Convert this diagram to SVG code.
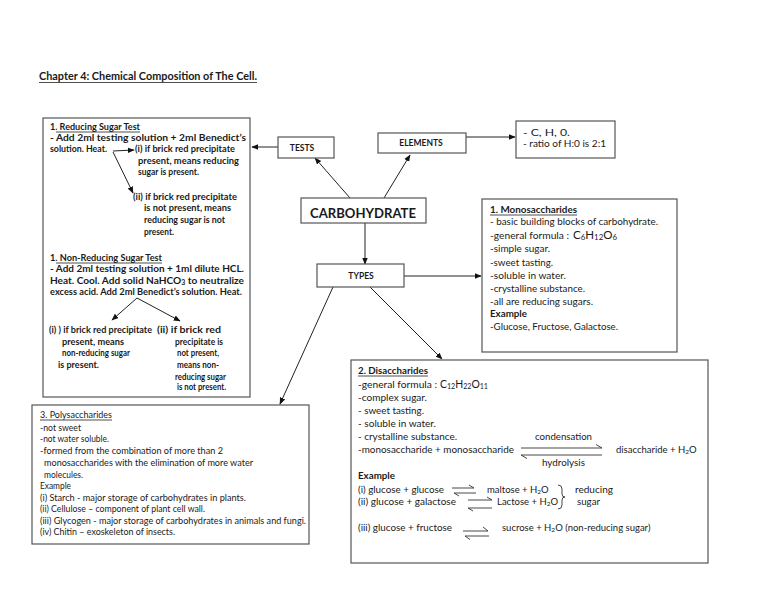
<svg xmlns="http://www.w3.org/2000/svg" width="768" height="594" viewBox="0 0 768 594">
<style>
text{font-family:Lato,"Liberation Sans",sans-serif;fill:#1a1a1a}
.t{font-size:9.5px}
.b{font-size:9.5px;font-weight:bold}
.p{font-size:8.5px}
.f{font-size:11px}
.box{fill:#fff;stroke:#555;stroke-width:1.2}
.ln{stroke:#222;stroke-width:1;fill:none}
.ul{stroke:#222;stroke-width:0.8}
.hp{stroke:#333;stroke-width:0.9;fill:none}
.s{font-size:6.5px}
.fs{font-size:7.5px}
</style>
<defs>
<marker id="ah" viewBox="0 0 10 10" refX="9" refY="5" markerWidth="7" markerHeight="7" orient="auto-start-reverse" markerUnits="userSpaceOnUse">
<path d="M0,1 L10,5 L0,9 z" fill="#111"/>
</marker>
</defs>
<rect width="768" height="594" fill="#fff"/>

<g id="title">
<text x="39" y="80" font-size="11" font-weight="bold" textLength="218" lengthAdjust="spacingAndGlyphs">Chapter 4: Chemical Composition of The Cell.</text>
<line class="ul" x1="39" y1="82.5" x2="257" y2="82.5"/>
</g>

<g id="connectors">
<line class="ln" x1="278" y1="147" x2="252" y2="147" marker-end="url(#ah)"/>
<line class="ln" x1="466" y1="137" x2="515" y2="137" marker-end="url(#ah)"/>
<line class="ln" x1="350" y1="198" x2="315" y2="158" marker-end="url(#ah)"/>
<line class="ln" x1="384" y1="198" x2="410" y2="155" marker-end="url(#ah)"/>
<line class="ln" x1="365" y1="223" x2="365" y2="264" marker-end="url(#ah)"/>
<line class="ln" x1="404" y1="276" x2="481" y2="276" marker-end="url(#ah)"/>
<line class="ln" x1="333" y1="287" x2="280" y2="404" marker-end="url(#ah)"/>
<line class="ln" x1="370" y1="287" x2="442" y2="359" marker-end="url(#ah)"/>
</g>

<g id="tests-box">
<rect class="box" x="43" y="118" width="207" height="279"/>
<text class="b" x="50" y="130" textLength="90" lengthAdjust="spacingAndGlyphs">1. Reducing Sugar Test</text>
<line class="ul" x1="56" y1="132" x2="140" y2="132"/>
<text class="b" x="50" y="141" textLength="196" lengthAdjust="spacingAndGlyphs">- Add 2ml testing solution + 2ml Benedict’s</text>
<text class="b" x="50" y="152" textLength="57" lengthAdjust="spacingAndGlyphs">solution. Heat.</text>
<text class="b" x="135" y="152" textLength="100" lengthAdjust="spacingAndGlyphs">(i) if brick red precipitate</text>
<text class="b" x="138" y="164" textLength="101" lengthAdjust="spacingAndGlyphs">present, means reducing</text>
<text class="b" x="138" y="175" textLength="61" lengthAdjust="spacingAndGlyphs">sugar is present.</text>
<text class="b" x="133" y="200" textLength="104" lengthAdjust="spacingAndGlyphs">(ii) if brick red precipitate</text>
<text class="b" x="144" y="211" textLength="87" lengthAdjust="spacingAndGlyphs">is not present, means</text>
<text class="b" x="144" y="223" textLength="81" lengthAdjust="spacingAndGlyphs">reducing sugar is not</text>
<text class="b" x="144" y="235" textLength="30" lengthAdjust="spacingAndGlyphs">present.</text>
<line class="ln" x1="113" y1="151" x2="134" y2="150" marker-end="url(#ah)"/>
<line class="ln" x1="113" y1="152" x2="133" y2="193" marker-end="url(#ah)"/>

<text class="b" x="50" y="261" textLength="112" lengthAdjust="spacingAndGlyphs">1. Non-Reducing Sugar Test</text>
<line class="ul" x1="56" y1="263" x2="162" y2="263"/>
<text class="b" x="50" y="272" textLength="194" lengthAdjust="spacingAndGlyphs">- Add 2ml testing solution + 1ml dilute HCL.</text>
<text class="b" x="50" y="284" textLength="194" lengthAdjust="spacingAndGlyphs">Heat. Cool. Add solid NaHCO<tspan class="s" dy="1">3</tspan><tspan dy="-1"> to neutralize</tspan></text>
<text class="b" x="50" y="295" textLength="192" lengthAdjust="spacingAndGlyphs">excess acid. Add 2ml Benedict’s solution. Heat.</text>
<line class="ln" x1="137" y1="298" x2="112" y2="320" marker-end="url(#ah)"/>
<line class="ln" x1="137" y1="298" x2="180" y2="321" marker-end="url(#ah)"/>
<text class="b" x="49" y="333" textLength="103" lengthAdjust="spacingAndGlyphs">(i) ) if brick red precipitate</text>
<text class="b" x="62" y="345" textLength="62" lengthAdjust="spacingAndGlyphs">present, means</text>
<text class="b" x="62" y="356" textLength="68" lengthAdjust="spacingAndGlyphs">non-reducing sugar</text>
<text class="b" x="58" y="368" textLength="41" lengthAdjust="spacingAndGlyphs">is present.</text>
<text class="b" x="157" y="333" textLength="64" lengthAdjust="spacingAndGlyphs">(ii) if brick red</text>
<text class="b" x="175" y="345" textLength="48" lengthAdjust="spacingAndGlyphs">precipitate is</text>
<text class="b" x="177" y="356" textLength="42" lengthAdjust="spacingAndGlyphs">not present,</text>
<text class="b" x="177" y="368" textLength="42" lengthAdjust="spacingAndGlyphs">means non-</text>
<text class="b" x="175" y="380" textLength="51" lengthAdjust="spacingAndGlyphs">reducing sugar</text>
<text class="b" x="177" y="390" textLength="49" lengthAdjust="spacingAndGlyphs">is not present.</text>
</g>

<g id="tests">
<rect class="box" x="278" y="137" width="56" height="21"/>
<text x="302" y="150.5" font-size="8.5" font-weight="bold" text-anchor="middle">TESTS</text>
</g>

<g id="elements">
<rect class="box" x="378" y="133" width="88" height="20"/>
<text x="421" y="146" font-size="8.5" font-weight="bold" text-anchor="middle">ELEMENTS</text>
</g>

<g id="elements-detail">
<rect class="box" x="516" y="121" width="99" height="37"/>
<text class="t" x="523" y="136" textLength="47" lengthAdjust="spacingAndGlyphs">- C, H, 0.</text>
<text class="t" x="523" y="147" textLength="83" lengthAdjust="spacingAndGlyphs">- ratio of H:0 is 2:1</text>
</g>

<g id="carbohydrate">
<rect class="box" x="301" y="198" width="125" height="25"/>
<text x="363" y="217.5" font-size="14" font-weight="bold" text-anchor="middle" textLength="106" lengthAdjust="spacingAndGlyphs">CARBOHYDRATE</text>
</g>

<g id="types">
<rect class="box" x="317" y="264" width="87" height="23"/>
<text x="361" y="278.5" font-size="8.5" font-weight="bold" text-anchor="middle">TYPES</text>
</g>

<g id="monosaccharides">
<rect class="box" x="482" y="199" width="195" height="153"/>
<text class="b" x="490" y="213" textLength="87" lengthAdjust="spacingAndGlyphs">1. Monosaccharides</text>
<line class="ul" x1="490" y1="215" x2="577" y2="215"/>
<text class="t" x="490" y="225" textLength="168" lengthAdjust="spacingAndGlyphs">- basic building blocks of carbohydrate.</text>
<text class="t" x="490" y="239" textLength="79" lengthAdjust="spacingAndGlyphs">-general formula :</text>
<text class="f" x="573" y="239" textLength="44" lengthAdjust="spacingAndGlyphs">C<tspan class="fs" dy="1">6</tspan><tspan dy="-1">H</tspan><tspan class="fs" dy="1">12</tspan><tspan dy="-1">O</tspan><tspan class="fs" dy="1">6</tspan></text>
<text class="t" x="490" y="252" textLength="60" lengthAdjust="spacingAndGlyphs">-simple sugar.</text>
<text class="t" x="490" y="266" textLength="63" lengthAdjust="spacingAndGlyphs">-sweet tasting.</text>
<text class="t" x="490" y="279" textLength="76" lengthAdjust="spacingAndGlyphs">-soluble in water.</text>
<text class="t" x="490" y="292" textLength="95" lengthAdjust="spacingAndGlyphs">-crystalline substance.</text>
<text class="t" x="490" y="305" textLength="103" lengthAdjust="spacingAndGlyphs">-all are reducing sugars.</text>
<text class="b" x="490" y="317" textLength="37" lengthAdjust="spacingAndGlyphs">Example</text>
<text class="t" x="490" y="330" textLength="128" lengthAdjust="spacingAndGlyphs">-Glucose, Fructose, Galactose.</text>
</g>

<g id="polysaccharides">
<rect class="box" x="32" y="405" width="277" height="139"/>
<text class="p" x="40" y="418" textLength="72" lengthAdjust="spacingAndGlyphs">3. Polysaccharides</text>
<line class="ul" x1="40" y1="420" x2="112" y2="420"/>
<text class="p" x="40" y="431" textLength="41" lengthAdjust="spacingAndGlyphs">-not sweet</text>
<text class="p" x="40" y="442" textLength="69" lengthAdjust="spacingAndGlyphs">-not water soluble.</text>
<text class="p" x="40" y="454" textLength="183" lengthAdjust="spacingAndGlyphs">-formed from the combination of more than 2</text>
<text class="p" x="44" y="466" textLength="209" lengthAdjust="spacingAndGlyphs">monosaccharides with the elimination of more water</text>
<text class="p" x="44" y="478" textLength="39" lengthAdjust="spacingAndGlyphs">molecules.</text>
<text class="p" x="40" y="489" textLength="31" lengthAdjust="spacingAndGlyphs">Example</text>
<text class="p" x="40" y="501" textLength="206" lengthAdjust="spacingAndGlyphs">(i) Starch -  major storage of carbohydrates in plants.</text>
<text class="p" x="40" y="512" textLength="165" lengthAdjust="spacingAndGlyphs">(ii) Cellulose – component of plant cell wall.</text>
<text class="p" x="40" y="524" textLength="266" lengthAdjust="spacingAndGlyphs">(iii) Glycogen -  major storage of carbohydrates in animals and fungi.</text>
<text class="p" x="40" y="535" textLength="135" lengthAdjust="spacingAndGlyphs">(iv) Chitin – exoskeleton of insects.</text>
</g>

<g id="disaccharides">
<rect class="box" x="351" y="360" width="357" height="203"/>
<text class="b" x="358" y="374" textLength="70" lengthAdjust="spacingAndGlyphs">2. Disaccharides</text>
<line class="ul" x1="358" y1="376" x2="428" y2="376"/>
<text class="t" x="358" y="388" textLength="79" lengthAdjust="spacingAndGlyphs">-general formula :</text>
<text class="f" x="440" y="388" textLength="48" lengthAdjust="spacingAndGlyphs">C<tspan class="fs" dy="1">12</tspan><tspan dy="-1">H</tspan><tspan class="fs" dy="1">22</tspan><tspan dy="-1">O</tspan><tspan class="fs" dy="1">11</tspan></text>
<text class="t" x="358" y="401" textLength="69" lengthAdjust="spacingAndGlyphs">-complex sugar.</text>
<text class="t" x="358" y="414" textLength="66" lengthAdjust="spacingAndGlyphs">- sweet tasting.</text>
<text class="t" x="358" y="427" textLength="78" lengthAdjust="spacingAndGlyphs">- soluble in water.</text>
<text class="t" x="358" y="440" textLength="99" lengthAdjust="spacingAndGlyphs">- crystalline substance.</text>
<text class="t" x="358" y="453" textLength="156" lengthAdjust="spacingAndGlyphs">-monosaccharide + monosaccharide</text>
<text class="t" x="535" y="440" textLength="57" lengthAdjust="spacingAndGlyphs">condensation</text>
<text class="t" x="542" y="466" textLength="43" lengthAdjust="spacingAndGlyphs">hydrolysis</text>
<text class="t" x="616" y="453">disaccharide + H<tspan class="s" dy="1">2</tspan><tspan dy="-1">O</tspan></text>
<path class="hp" d="M521,448 H602 l-6,-3.5"/>
<path class="hp" d="M602,455 H521 l6,3.5"/>

<text class="b" x="358" y="479" textLength="37" lengthAdjust="spacingAndGlyphs">Example</text>
<text class="t" x="358" y="493" textLength="86" lengthAdjust="spacingAndGlyphs">(i) glucose + glucose</text>
<path class="hp" d="M452,488 H474 l-5,-3"/>
<path class="hp" d="M476,493 H454 l5,3"/>
<text class="t" x="487" y="493">maltose  + H<tspan class="s" dy="1">2</tspan><tspan dy="-1">O</tspan></text>
<text class="t" x="358" y="505" textLength="98" lengthAdjust="spacingAndGlyphs">(ii) glucose + galactose</text>
<path class="hp" d="M468,500 H492 l-5,-3"/>
<path class="hp" d="M492,508 H468 l5,3"/>
<text class="t" x="497" y="505">Lactose + H<tspan class="s" dy="1">2</tspan><tspan dy="-1">O</tspan></text>
<path class="hp" d="M558,485 Q562,485 562,489 V494 Q562,497 565,497 Q562,497 562,500 V505 Q562,509 558,509"/>
<text class="t" x="575" y="493" textLength="38" lengthAdjust="spacingAndGlyphs">reducing</text>
<text class="t" x="577" y="505" textLength="23" lengthAdjust="spacingAndGlyphs">sugar</text>
<text class="t" x="358" y="531" textLength="94" lengthAdjust="spacingAndGlyphs">(iii) glucose + fructose</text>
<path class="hp" d="M463,531 H488 l-5,-4"/>
<path class="hp" d="M489,536 H465 l5,3.5"/>
<text class="t" x="502" y="531">sucrose + H<tspan class="s" dy="1">2</tspan><tspan dy="-1">O (non-reducing sugar)</tspan></text>
</g>
</svg>
